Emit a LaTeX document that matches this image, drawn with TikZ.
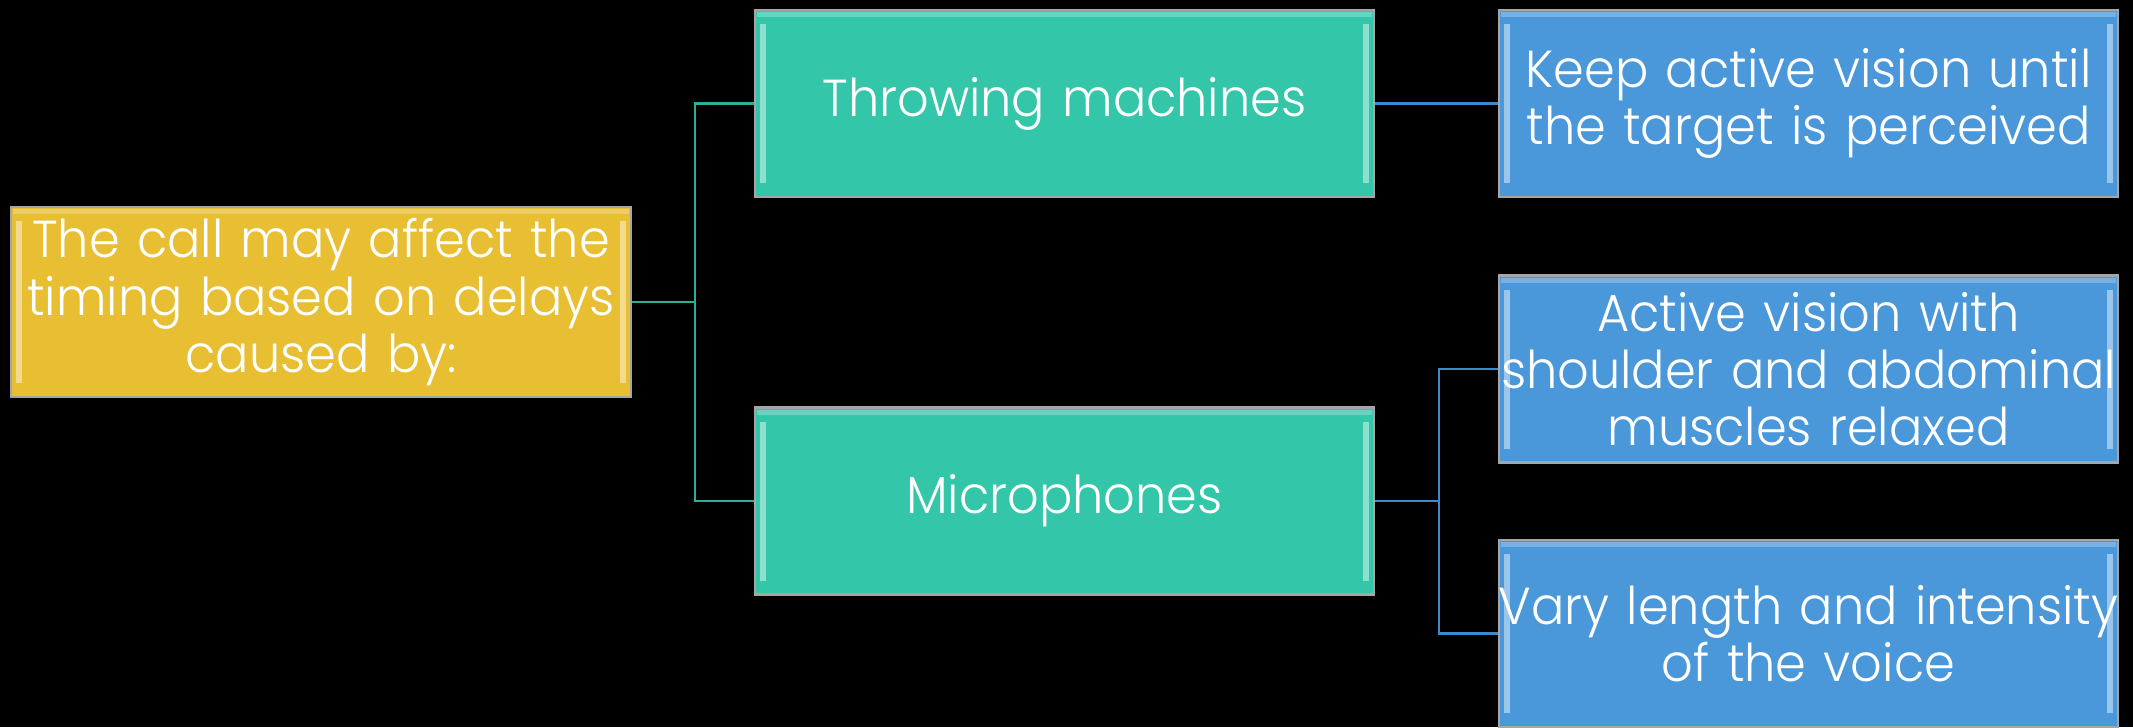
\documentclass[tikz,border=0pt]{standalone}
\usepackage{fontspec}
\setmainfont{Poppins}[UprightFont=* Light,FakeStretch=0.95]
\usetikzlibrary{positioning,calc}
\definecolor{goldfill}{HTML}{E8BE33}
\definecolor{tealfill}{HTML}{34C6A9}
\definecolor{bluefill}{HTML}{4A98DA}
\definecolor{tealline}{HTML}{2BB097}
\definecolor{blueline}{HTML}{3E88CC}
\tikzset{
  bevel/.style={path picture={
      \fill[white,opacity=0.45] ($(path picture bounding box.north west)+(0.05,-0.14)$)
        rectangle ($(path picture bounding box.south west)+(0.11,0.14)$);
      \fill[white,opacity=0.45] ($(path picture bounding box.north east)+(-0.05,-0.14)$)
        rectangle ($(path picture bounding box.south east)+(-0.11,0.14)$);
      \fill[white,opacity=0.25] ($(path picture bounding box.north west)+(0.02,-0.02)$)
        rectangle ($(path picture bounding box.north east)+(-0.02,-0.07)$);
  }},
  box/.style={draw=gray!70,line width=0.6pt,bevel,align=center,text=white,
              text width=6.69cm,inner xsep=-0.25cm,inner ysep=0pt,minimum height=1.87cm,
              font=\fontsize{14.8}{16.3}\selectfont},
  rootbox/.style={box,fill=goldfill,text width=6.7cm,minimum height=1.9cm},
  midbox/.style={box,fill=tealfill},
  leafbox/.style={box,fill=bluefill},
  tlink/.style={draw=tealline,line width=0.7pt},
  blink/.style={draw=blueline,line width=0.7pt}
}
\begin{document}
\begin{tikzpicture}
\fill[black] (0,0) rectangle (21.33,-7.27);
\useasboundingbox (0,0) rectangle (21.33,-7.27);

\node[rootbox] (root) at (3.21,-3.02) {The call may affect the\\ timing based on delays\\ caused by:};
\node[midbox] (throw) at (10.645,-1.035) {Throwing machines};
\node[midbox] (micro) at (10.645,-5.01) {Microphones};
\node[leafbox] (keep) at (18.085,-1.035) {Keep active vision until\\ the target is perceived};
\node[leafbox] (active) at (18.085,-3.69) {Active vision with\\ shoulder and abdominal\\ muscles relaxed};
\node[leafbox] (vary) at (18.085,-6.335) {Vary length and intensity\\ of the voice};

% connectors
\coordinate (jroot) at ($(root.east)+(0.63,0)$);
\draw[tlink] (root.east) -- (jroot) |- (throw.west);
\draw[tlink] (jroot) |- (micro.west);
\draw[blink] (throw.east) -- (keep.west);
\coordinate (jmicro) at ($(micro.east)+(0.64,0)$);
\draw[blink] (micro.east) -- (jmicro) |- (active.west);
\draw[blink] (jmicro) |- (vary.west);
\end{tikzpicture}
\end{document}
